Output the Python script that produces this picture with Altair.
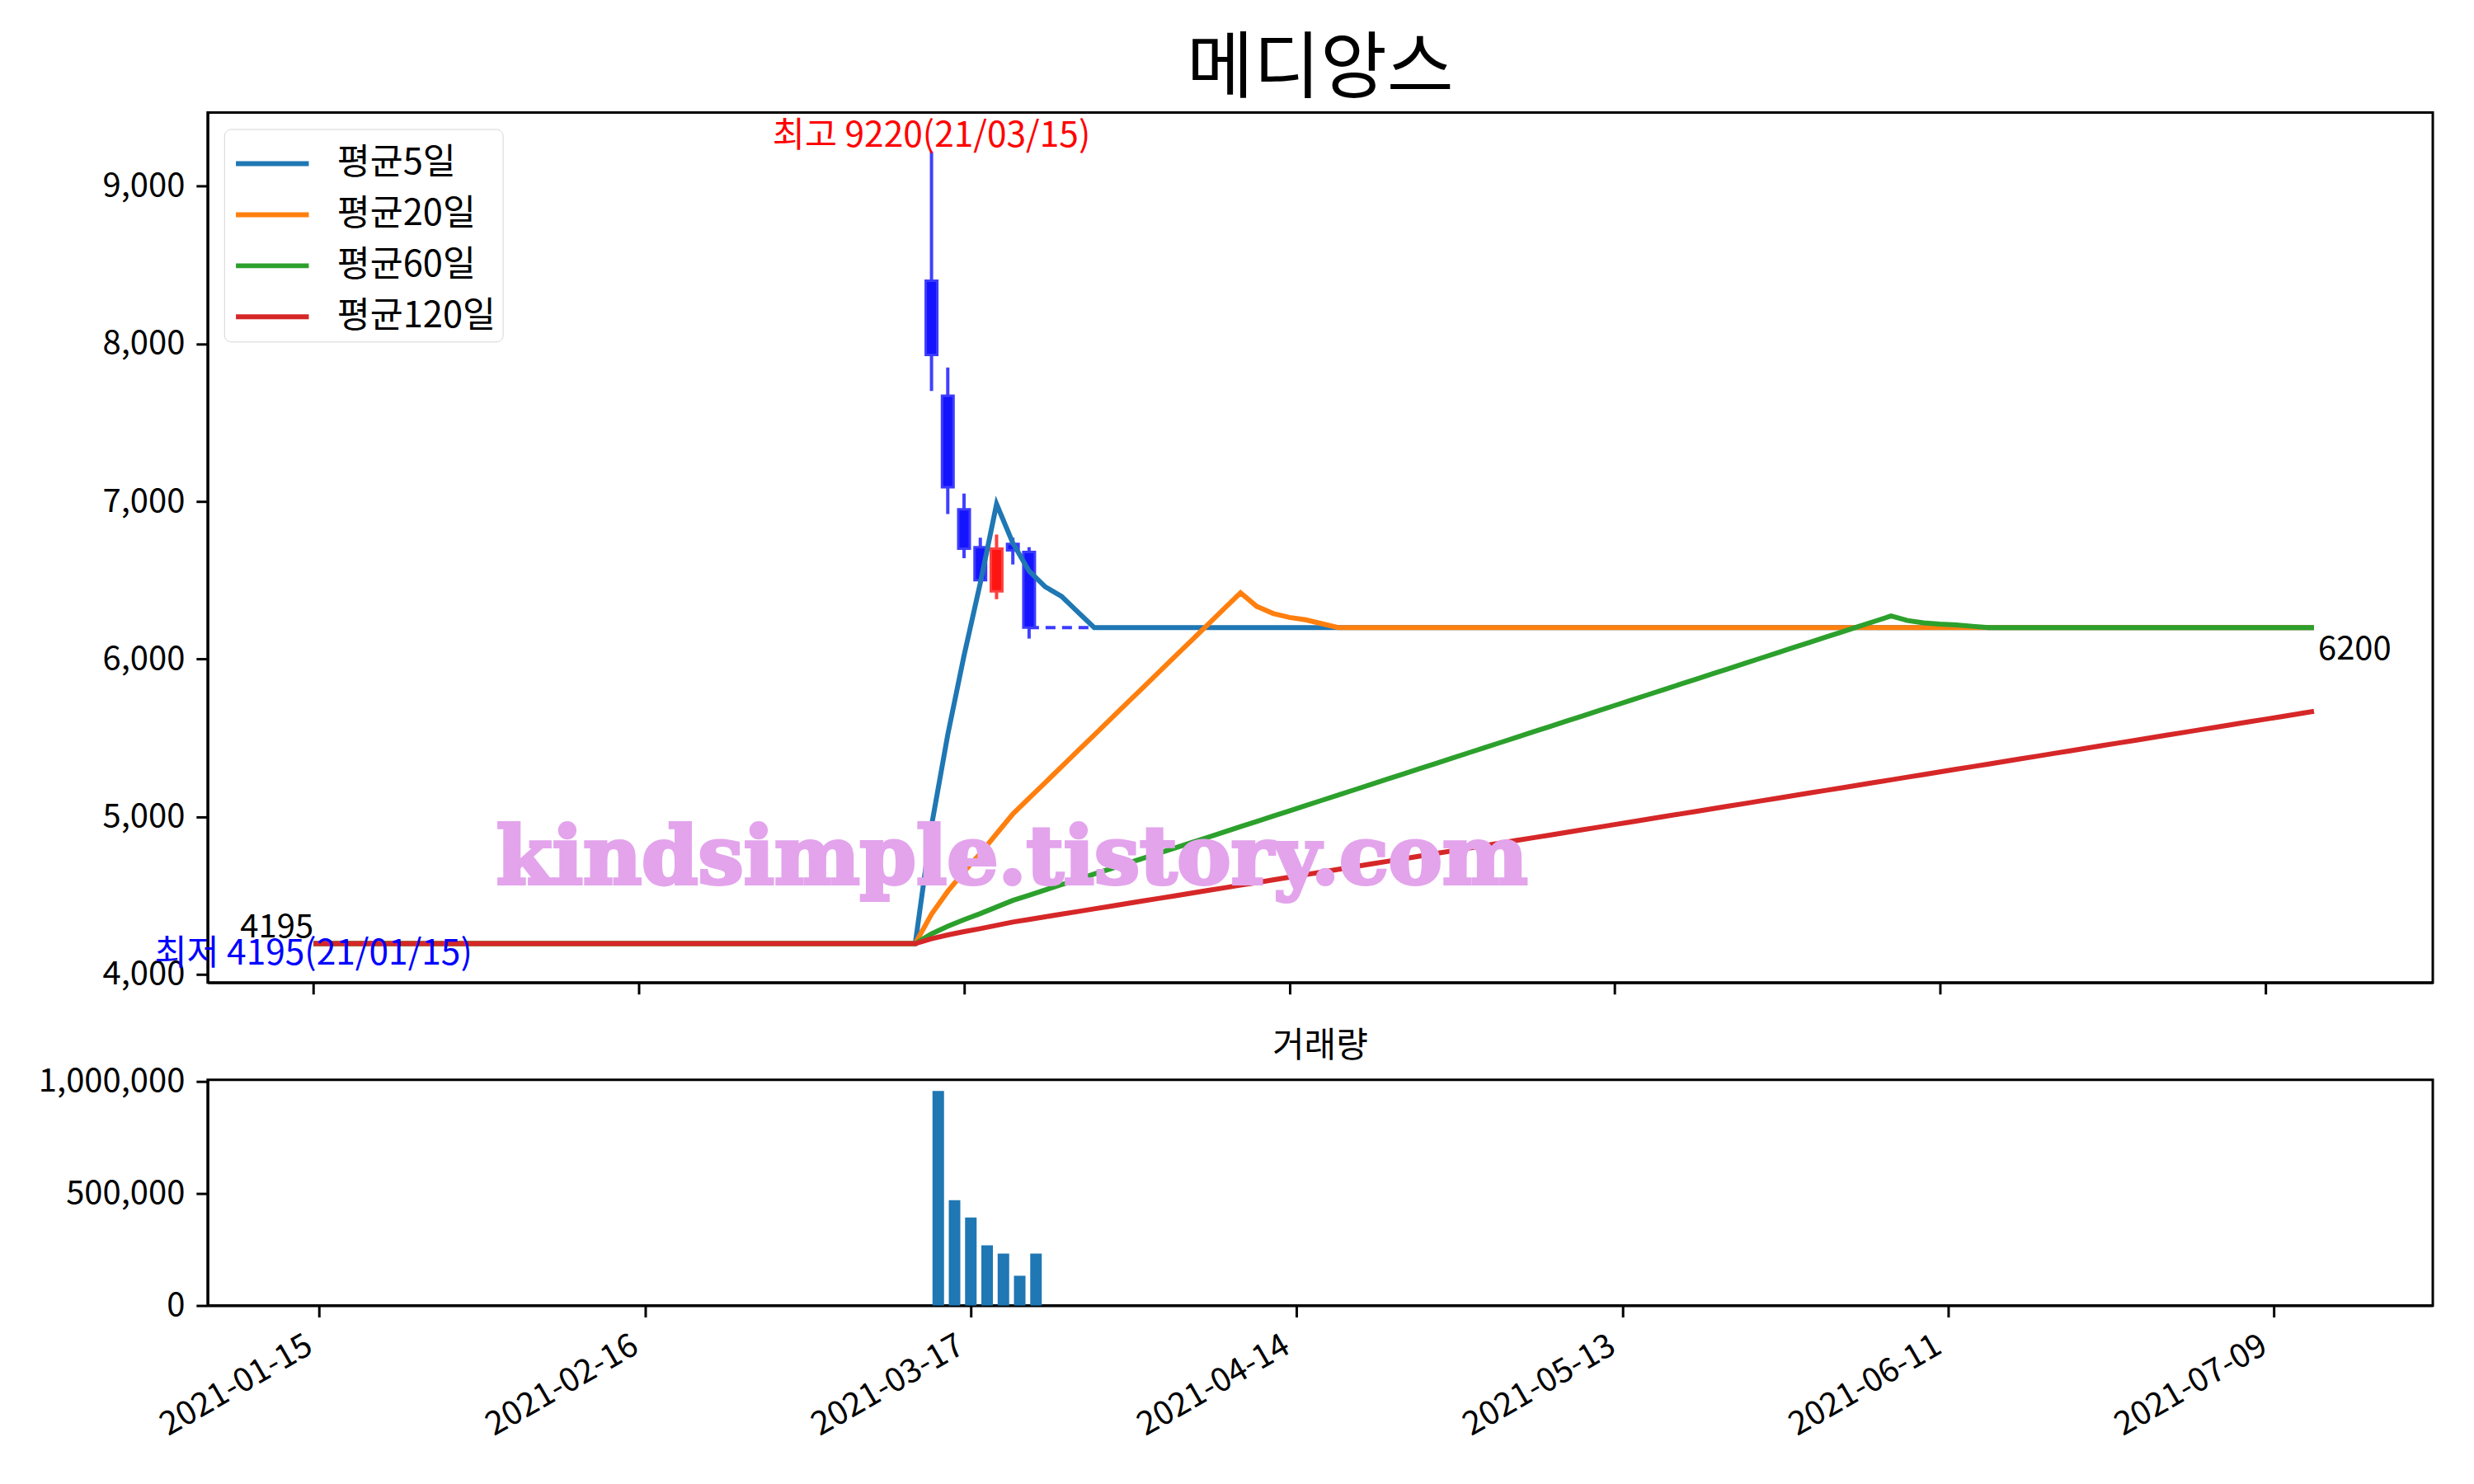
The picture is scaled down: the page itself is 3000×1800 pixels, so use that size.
import json
import altair as alt
import pandas as pd

FONT = "Noto Sans CJK KR"

TITLE = "메디앙스"
VOLUME_TITLE = "거래량"
WATERMARK = "kindsimple.tistory.com"

MA_NAMES = ["평균5일", "평균20일", "평균60일", "평균120일"]
MA_WINDOWS = [5, 20, 60, 120]
MA_COLORS = ["#1f77b4", "#ff7f0e", "#2ca02c", "#d62728"]

TICK_IDX = [0, 20, 40, 60, 80, 100, 120]
TICK_LABELS = ["2021-01-15", "2021-02-16", "2021-03-17", "2021-04-14",
               "2021-05-13", "2021-06-11", "2021-07-09"]

# closing prices: flat 4195 before the first trade (history starts 119 days
# before the plotted window), seven traded days, then flat 6200
HISTORY_START = -119
PRE_CLOSE = [4195] * (119 + 38)
TRADE_IDX = [38, 39, 40, 41, 42, 43, 44]
OPEN = [8400, 7670, 6950, 6710, 6430, 6730, 6680]
HIGH = [9220, 7850, 7050, 6770, 6790, 6770, 6710]
LOW = [7700, 6920, 6640, 6480, 6380, 6600, 6130]
CLOSE = [7930, 7090, 6700, 6500, 6700, 6690, 6200]
VOLUME = [958000, 470000, 393000, 269000, 232000, 133000, 232000]
POST_CLOSE = [6200] * 79

HIGH_LABEL = "최고 9220(21/03/15)"
LOW_LABEL = "최저 4195(21/01/15)"

Y_TICKS = [4000, 5000, 6000, 7000, 8000, 9000]
VOL_TICKS = [0, 500000, 1000000]

closes = PRE_CLOSE + CLOSE + POST_CLOSE
idx = list(range(HISTORY_START, HISTORY_START + len(closes)))
price_df = pd.DataFrame({"i": idx, "close": closes})
candle_df = pd.DataFrame({"i": TRADE_IDX, "open": OPEN, "high": HIGH,
                          "low": LOW, "close": CLOSE})
vol_df = pd.DataFrame({"i": TRADE_IDX, "volume": VOLUME})

k_hi = HIGH.index(max(HIGH))
last_i = idx[-1]
hi_df = pd.DataFrame({"i": [TRADE_IDX[k_hi]], "v": [HIGH[k_hi]], "t": [HIGH_LABEL]})
lo_df = pd.DataFrame({"i": [0], "v": [min(closes)], "t": [LOW_LABEL]})
first_df = pd.DataFrame({"i": [0], "v": [PRE_CLOSE[-1]], "t": [str(PRE_CLOSE[-1])]})
last_df = pd.DataFrame({"i": [last_i], "v": [closes[-1]], "t": [str(closes[-1])]})
wm_df = pd.DataFrame({"t": [WATERMARK]})

X_TOP = alt.Scale(domain=[-6.25, 130.05], nice=False, zero=False)
Y_TOP = alt.Scale(domain=[3948, 9467], nice=False, zero=False)
X_BOT = alt.Scale(domain=[-6.6, 129.5], nice=False, zero=False)
Y_BOT = alt.Scale(domain=[0, 1008000], nice=False, zero=False)

top_x_axis = alt.Axis(values=TICK_IDX, labels=False, title=None)
top_y_axis = alt.Axis(values=Y_TICKS, format=",d", title=None)


def xt(field="i"):
    return alt.X(f"{field}:Q", scale=X_TOP, axis=top_x_axis)


def yt(field):
    return alt.Y(f"{field}:Q", scale=Y_TOP, axis=top_y_axis)


up = alt.datum.close >= alt.datum.open

dashed = alt.Chart(price_df).transform_filter(
    alt.datum.i >= TRADE_IDX[-1]
).mark_line(color="#3b3bff", strokeDash=[12, 8], strokeWidth=4).encode(
    x=xt(), y=yt("close"))

wicks = alt.Chart(candle_df).mark_rule(strokeWidth=4).encode(
    x=xt(), y=yt("low"), y2="high:Q",
    color=alt.condition(up, alt.value("#ff3d3d"), alt.value("#4040ff")))

bodies = alt.Chart(candle_df).mark_bar(size=14, strokeWidth=3).encode(
    x=xt(), y=yt("open"), y2="close:Q",
    fill=alt.condition(up, alt.value("#ff1414"), alt.value("#1414ff")),
    stroke=alt.condition(up, alt.value("#ff4040"), alt.value("#3c3cff")))

ma_base = alt.Chart(price_df)
for name, w in zip(MA_NAMES, MA_WINDOWS):
    ma_base = ma_base.transform_window(
        window=[{"op": "mean", "field": "close", "as": name}],
        frame=[-(w - 1), 0], sort=[{"field": "i"}])
ma_lines = ma_base.transform_filter(alt.datum.i >= 0).transform_fold(
    MA_NAMES, as_=["series", "value"]).mark_line(strokeWidth=6).encode(
    x=xt(), y=yt("value"),
    color=alt.Color("series:N", sort=MA_NAMES,
                    scale=alt.Scale(domain=MA_NAMES, range=MA_COLORS),
                    legend=alt.Legend(orient="top-left", offset=20, title=None,
                                      fillColor="white", strokeColor="#d4d4d4",
                                      cornerRadius=8, padding=8,
                                      symbolType="M-0.9,0H1.97", symbolSize=3800,
                                      symbolStrokeWidth=6, labelFontSize=43.5,
                                      labelFont=FONT, labelOffset=61,
                                      rowPadding=6, labelLimit=0)),
    order="i:Q")

hi_text = alt.Chart(hi_df).mark_text(color="red", fontSize=42.5, font=FONT,
                                     align="center", baseline="bottom", dy=3).encode(
    x=xt(), y=yt("v"), text="t:N")
lo_text = alt.Chart(lo_df).mark_text(color="blue", fontSize=42.5, font=FONT,
                                     align="center", baseline="middle", dy=12).encode(
    x=xt(), y=yt("v"), text="t:N")
first_text = alt.Chart(first_df).mark_text(color="black", fontSize=40, font=FONT,
                                           align="right", baseline="bottom").encode(
    x=xt(), y=yt("v"), text="t:N")
last_text = alt.Chart(last_df).mark_text(color="black", fontSize=40, font=FONT,
                                         align="left", baseline="top",
                                         dx=5, dy=7).encode(
    x=xt(), y=yt("v"), text="t:N")
watermark = alt.Chart(wm_df).mark_text(
    font="DejaVu Serif", fontWeight="bold", fontSize=98, color="#e3a4ec",
    stroke="#e3a4ec", strokeWidth=4,
    align="center", baseline="middle").encode(
    text="t:N", x=alt.value(976), y=alt.value(907))

top = alt.layer(dashed, wicks, bodies, ma_lines, hi_text, lo_text, first_text,
                last_text, watermark).properties(
    width=2700, height=1056,
    title=alt.TitleParams(TITLE, fontSize=88, font=FONT, fontWeight="normal",
                          anchor="middle", offset=8))

label_expr = f"{json.dumps(TICK_LABELS)}[indexof({json.dumps(TICK_IDX)}, datum.value)]"
bottom = alt.Chart(vol_df).mark_bar(size=14, color="#1f77b4").encode(
    x=alt.X("i:Q", scale=X_BOT,
            axis=alt.Axis(values=TICK_IDX, labelExpr=label_expr, labelAngle=-30,
                          labelAlign="right", labelBaseline="top", labelOffset=-22,
                          title=None)),
    y=alt.Y("volume:Q", scale=Y_BOT,
            axis=alt.Axis(values=VOL_TICKS, format=",d", title=None))
).properties(
    width=2700, height=274,
    title=alt.TitleParams(VOLUME_TITLE, fontSize=42, font=FONT, fontWeight="normal",
                          anchor="middle", offset=1))

chart = alt.vconcat(top, bottom, spacing=37).properties(
    padding={"left": 36, "top": 30, "right": 40, "bottom": 10},
    background="white"
).configure_view(stroke="black", strokeWidth=3).configure_axis(
    domainColor="black", domainWidth=3, tickColor="black", tickWidth=3,
    tickSize=14, labelFontSize=40, labelFont=FONT, labelColor="black",
    labelPadding=14, labelLimit=0, grid=False
).configure_title(color="black")

chart.save("out.html", embed_options={"renderer": "svg", "actions": False})
